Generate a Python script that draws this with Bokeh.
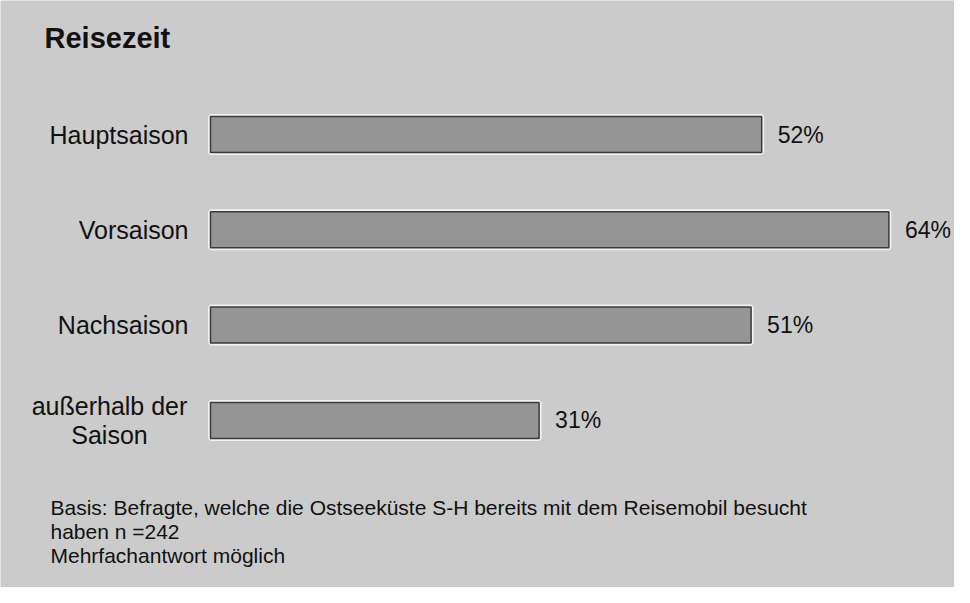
from bokeh.plotting import figure
from bokeh.models import Range1d, ColumnDataSource, Label
from bokeh.core.properties import value
from bokeh.embed import file_html
from bokeh.resources import INLINE

title = "Reisezeit"
categories = ["Hauptsaison", "Vorsaison", "Nachsaison", "außerhalb der\nSaison"]
values = [52, 64, 51, 31]
value_labels = ["52%", "64%", "51%", "31%"]
footnote = [
    "Basis: Befragte, welche die Ostseeküste S-H bereits mit dem Reisemobil besucht",
    "haben n =242",
    "Mehrfachantwort möglich",
]

W, H = 954, 587
PX_PER_UNIT = 10.6
X0 = 210  # pixel position of value 0
ROW = 95.3
Y0 = 134  # pixel centre of first row

x_range = Range1d(-X0 / PX_PER_UNIT, (W - X0) / PX_PER_UNIT)
y_range = Range1d((H - Y0) / ROW, -Y0 / ROW)

BG = "#cbcbcb"
p = figure(width=W, height=H, x_range=x_range, y_range=y_range,
           output_backend="svg", toolbar_location=None,
           min_border=0, min_border_left=0, min_border_right=0,
           min_border_top=0, min_border_bottom=0)
p.axis.visible = False
p.grid.visible = False
p.outline_line_color = None
p.background_fill_color = BG
p.border_fill_color = BG

FONT = value("Liberation Sans")

idx = list(range(len(categories)))
src = ColumnDataSource(dict(y=idx, v=values, cat=categories, lab=value_labels))

# white halo then the bar
p.hbar(y="y", left=0, right="v", height=0.378, source=src,
       fill_color=None, line_color="#f2f2f2", line_width=5)
p.hbar(y="y", left=0, right="v", height=0.378, source=src,
       fill_color="#959595", line_color="#3a3a3a", line_width=1.5)

# category labels
s1 = ColumnDataSource(dict(y=[i for i, c in enumerate(categories) if "\n" not in c],
                           t=[c for c in categories if "\n" not in c]))
s2 = ColumnDataSource(dict(y=[i for i, c in enumerate(categories) if "\n" in c],
                           t=[c for c in categories if "\n" in c]))
lx = -22 / PX_PER_UNIT
p.text(x=lx, y="y", text="t", source=s1, text_align="right", text_baseline="middle",
       text_font=FONT, text_font_size="25px", text_color="#111111")
p.text(x=lx, y="y", text="t", source=s2, text_align="center", text_baseline="middle",
       x_offset=-79, y_offset=0, text_line_height=1.05,
       text_font=FONT, text_font_size="25px", text_color="#111111")

# value labels
p.text(x="v", y="y", text="lab", source=src, x_offset=16, text_align="left",
       text_baseline="middle", text_font=FONT, text_font_size="23px",
       text_color="#111111")

# title
p.add_layout(Label(x=44, y=H - 37, x_units="screen", y_units="screen", text=title,
                   text_font="Liberation Sans", text_font_style="bold",
                   text_font_size="29px", text_baseline="middle", text_color="#111111"))

# footnote
for i, line in enumerate(footnote):
    p.add_layout(Label(x=50, y=H - (507 + 24 * i), x_units="screen", y_units="screen",
                       text=line, text_font="Liberation Sans", text_font_size="21px",
                       text_baseline="middle", text_color="#111111"))

open("out.html", "w").write(file_html(p, INLINE))
